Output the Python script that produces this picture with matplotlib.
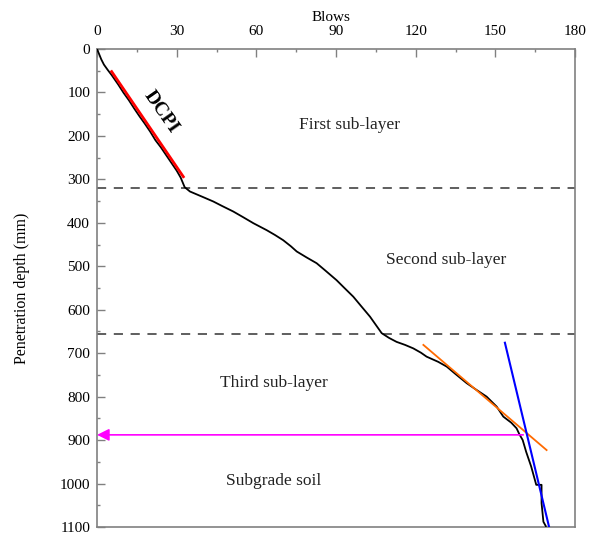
import numpy as np
import matplotlib as mpl
mpl.use('Agg')
import matplotlib.pyplot as plt
from matplotlib.ticker import MultipleLocator

# DCP test record: cumulative blows vs penetration depth (mm)
blows = [0, 0.8, 1.6, 2.6, 4, 5.5, 8, 10, 12, 14, 16, 18, 20, 22, 24, 26, 28, 30, 31.5, 33,
         35, 40, 43.8, 47, 51.3, 55, 58.9, 63.9, 67, 70.1, 73, 75.2, 79, 82.7, 86, 90.2, 93,
         96.5, 99.5, 102.8, 105, 107.2, 110, 112.8, 116, 119.1, 122, 124.1, 128.5, 131.7,
         135, 139.2, 143, 146.7, 150.5, 153, 156, 158, 159, 160.3, 161.6, 163.5, 165.4,
         167.4, 167.4, 168.1, 169]
depth = [0, 12, 24, 36, 48, 60, 82, 101, 118, 137, 155, 172, 190, 210, 226, 244, 262, 280, 296, 318,
         328, 341, 351, 361, 374, 387, 401, 417, 428, 440, 454, 466, 480, 493, 510, 532, 549,
         570, 592, 616, 635, 654, 665, 674, 681, 689, 699, 708, 720, 731,
         748, 769, 785, 800, 823, 846, 860, 873, 886, 900, 927, 961, 1003,
         1003, 1045, 1088, 1098]

# fitted trend lines (blows, depth)
dcpi_x, dcpi_y = [5.5, 32.5], [52, 294]
third_x, third_y = [122.9, 169.3], [681, 923]
subgrade_x, subgrade_y = [153.6, 170.2], [676, 1099]

layer_bounds = [320, 656]
subgrade_top = 888
subgrade_blows = 160.5

layer_labels = ['First sub-layer', 'Second sub-layer', 'Third sub-layer', 'Subgrade soil']
label_x = [95, 131.5, 66.5, 66.5]
label_y = [175, 486, 769, 994]

plt.rcParams['font.family'] = ['Liberation Serif', 'DejaVu Serif']

fig = plt.figure(figsize=(5.92, 5.40), dpi=100)
ax = fig.add_axes([0.1639, 0.0241, 0.8074, 0.8852])

ax.plot(blows, depth, color='black', lw=1.3, zorder=3)
ax.plot(dcpi_x, dcpi_y, color='#ff0000', lw=2.0, zorder=4)
ax.plot(third_x, third_y, color='#ff6a00', lw=1.3, zorder=4)
ax.plot(subgrade_x, subgrade_y, color='#0000ff', lw=1.5, zorder=4)

for yb in layer_bounds:
    ax.axhline(yb, color='#333333', lw=1.1, ls=(0, (6, 5)), zorder=2)

# arrow marking the top of the subgrade
ax.annotate('', xy=(0, subgrade_top), xytext=(subgrade_blows, subgrade_top),
            arrowprops=dict(arrowstyle='-|>', color='#ff00ff', lw=1.2,
                            mutation_scale=18, shrinkA=0, shrinkB=0), zorder=5)

ax.text(24, 146, 'DCPI', fontsize=14, fontweight='bold', rotation=-55,
        rotation_mode='anchor', ha='center', va='center')
for s, lx, ly in zip(layer_labels, label_x, label_y):
    ax.text(lx, ly, s, fontsize=12.5, ha='center', va='center', color='#222222')

ax.set_xlim(0, 180)
ax.set_ylim(1100, 0)
ax.xaxis.set_major_locator(MultipleLocator(30))
ax.xaxis.set_minor_locator(MultipleLocator(15))
ax.yaxis.set_major_locator(MultipleLocator(100))
ax.yaxis.set_minor_locator(MultipleLocator(50))
ax.xaxis.tick_top()
ax.xaxis.set_label_position('top')
ax.tick_params(which='both', direction='in', colors='#808080', labelcolor='black',
               labelsize=11, right=False, bottom=False)
ax.tick_params(which='major', length=5.5, width=1)
ax.tick_params(which='minor', length=2.5, width=1)
ax.tick_params(axis='x', pad=8)
ax.tick_params(axis='y', pad=5)

for spine in ax.spines.values():
    spine.set_color('#808080')
    spine.set_linewidth(1.2)

ax.set_xlabel('Blows', fontsize=11)
ax.xaxis.set_label_coords(0.49, 1.058)
ax.set_ylabel('Penetration depth (mm)', fontsize=11.5)
ax.yaxis.set_label_coords(-0.14, 0.5)

fig.savefig('out.png', dpi=100)
